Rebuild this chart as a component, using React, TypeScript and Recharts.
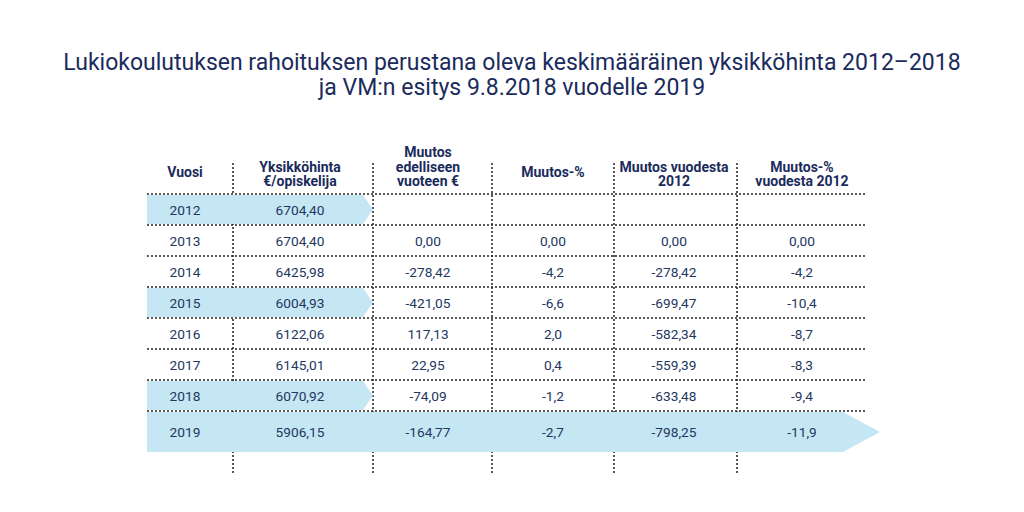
import { ComposedChart, Bar, XAxis, YAxis, CartesianGrid, LabelList } from 'recharts';

const years = [2012, 2013, 2014, 2015, 2016, 2017, 2018, 2019];
const unitPrice = [6704.4, 6704.4, 6425.98, 6004.93, 6122.06, 6145.01, 6070.92, 5906.15];
const changePrev = [null, 0, -278.42, -421.05, 117.13, 22.95, -74.09, -164.77];
const changePct = [null, 0, -4.2, -6.6, 2.0, 0.4, -1.2, -2.7];
const changeFrom2012 = [null, 0, -278.42, -699.47, -582.34, -559.39, -633.48, -798.25];
const changePctFrom2012 = [null, 0, -4.2, -10.4, -8.7, -8.3, -9.4, -11.9];
// number of columns the blue arrow covers in each row (0 = none)
const highlightCols = [2, 0, 0, 2, 0, 0, 2, 6];

const headers = [
  'Vuosi',
  'Yksikköhinta\n€/opiskelija',
  'Muutos\nedelliseen\nvuoteen €',
  'Muutos-%',
  'Muutos vuodesta\n2012',
  'Muutos-%\nvuodesta 2012',
];

// table geometry, in x-axis units (1 unit = 1px of plot)
const TABLE_W = 719;
const COL_EDGES = [0, 86, 226, 345, 467, 590, 719];
const COL_TEXT_X = [38, 153, 281, 406, 527, 655];
// the last (full width) arrow is drawn a bit taller than its row
const FULL_EXTRA = 11;

const NAVY = '#1a2b5c';
const TEXT = '#22375f';
const BLUE = '#c5e6f3';

const fmt = (v: number | null, d: number) => {
  if (v === null) return '';
  if (v === 0) return '0,00';
  return v.toFixed(d).replace('.', ',');
};

const rows = [
  { key: 'header', hl: 0, full: false, c0: headers[0], c1: headers[1], c2: headers[2], c3: headers[3], c4: headers[4], c5: headers[5] },
  ...years.map((y, i) => ({
    key: String(y),
    hl: COL_EDGES[highlightCols[i]],
    full: highlightCols[i] === 6,
    c0: String(y),
    c1: fmt(unitPrice[i], 2),
    c2: fmt(changePrev[i], 2),
    c3: fmt(changePct[i], 1),
    c4: fmt(changeFrom2012[i], 2),
    c5: fmt(changePctFrom2012[i], 1),
  })),
  { key: 'blank', hl: 0, full: false, c0: '', c1: '', c2: '', c3: '', c4: '', c5: '' },
];

const Arrow = (props: any) => {
  const { x, y, width, payload } = props;
  if (!width || width <= 0) return null;
  const full = payload.full;
  const height = props.height + (full ? FULL_EXTRA : 0);
  const tipIn = full ? 23 : 10;
  const tipOut = full ? 14 : 0;
  const xb = x + width - tipIn;
  const xt = x + width + tipOut;
  return (
    <path
      d={`M${x},${y}H${xb}L${xt},${y + height / 2}L${xb},${y + height}H${x}Z`}
      fill={BLUE}
    />
  );
};

const cell = (col: number) => (props: any) => {
  const { viewBox, value, index } = props;
  if (!value) return null;
  const cx = viewBox.x + COL_TEXT_X[col];
  const full = rows[index] && rows[index].full;
  const cy = viewBox.y + viewBox.height / 2 + (full ? FULL_EXTRA / 2 : 0);
  if (index === 0) {
    const lines = String(value).split('\n');
    const n = lines.length;
    return (
      <g>
        {lines.map((l, k) => (
          <text
            key={k}
            x={cx}
            y={n === 1 ? cy - 6.5 : cy + 2.5 - (n - 1 - k) * 14.5}
            textAnchor="middle"
            dominantBaseline="central"
            fontFamily="Roboto"
            fontWeight={700}
            fontSize={14}
            fill={NAVY}
          >
            {l}
          </text>
        ))}
      </g>
    );
  }
  return (
    <text
      x={cx}
      y={cy}
      textAnchor="middle"
      dominantBaseline="central"
      fontFamily="Roboto"
      fontSize={13.7}
      fill={TEXT}
    >
      {value}
    </text>
  );
};

export default function App() {
  return (
    <div style={{ position: 'absolute', left: 0, top: 0, width: 1024, height: 512, background: '#fff' }}>
      <div
        style={{
          position: 'absolute',
          left: 0,
          top: 50,
          width: 1024,
          textAlign: 'center',
          fontFamily: 'Roboto',
          fontSize: 23,
          lineHeight: '25px',
          color: NAVY,
        }}
      >
        Lukiokoulutuksen rahoituksen perustana oleva keskimääräinen yksikköhinta 2012–2018
        <br />
        ja VM:n esitys 9.8.2018 vuodelle 2019
      </div>
      <div style={{ position: 'absolute', left: 0, top: 0 }}>
        <ComposedChart
          width={1024}
          height={512}
          data={rows}
          layout="vertical"
          margin={{ top: 163, right: 158, bottom: 39, left: 147 }}
          barCategoryGap={1}
        >
          <CartesianGrid
            stroke="#222"
            strokeWidth={1.5}
            strokeDasharray="2 2"
            horizontalCoordinatesGenerator={({ offset }: any) => {
              const band = offset.height / rows.length;
              return years.map((_, i) => offset.top + (i + 1) * band);
            }}
            verticalCoordinatesGenerator={({ offset }: any) =>
              COL_EDGES.slice(1, -1).map((e) => offset.left + (e * offset.width) / TABLE_W)
            }
          />
          <XAxis type="number" domain={[0, TABLE_W]} hide />
          <YAxis type="category" dataKey="key" hide />
          <Bar dataKey="hl" shape={Arrow} isAnimationActive={false}>
            {[0, 1, 2, 3, 4, 5].map((c) => (
              <LabelList key={c} dataKey={`c${c}`} content={cell(c)} />
            ))}
          </Bar>
        </ComposedChart>
      </div>
    </div>
  );
}
